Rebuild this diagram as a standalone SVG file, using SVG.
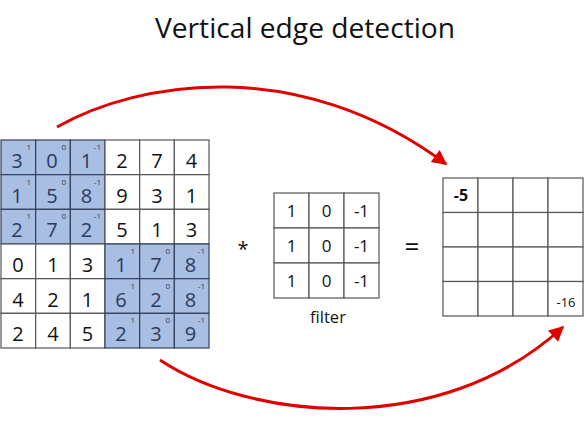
<svg xmlns="http://www.w3.org/2000/svg" width="586" height="431" viewBox="0 0 586 431">
<defs>
<style>
text{font-family:"Open Sans","Noto Sans","Liberation Sans",sans-serif;fill:#111;}
.c{fill:#fff;stroke:#555;stroke-width:1.2;}
.b{fill:#a9bee3;stroke:#33415e;stroke-width:1.2;}
.d{font-size:20px;text-anchor:middle;}
.db{font-size:20px;text-anchor:middle;fill:#2a3b5e;}
.s{font-size:8px;text-anchor:end;fill:#2a3b5e;}
.f{font-size:17px;text-anchor:middle;}
.arr{fill:none;stroke:#e00000;stroke-width:3;}
</style>
<marker id="ah" viewBox="0 0 10 10" refX="9" refY="5" markerWidth="6" markerHeight="5" markerUnits="strokeWidth" orient="auto">
<path d="M0,0 L10,5 L0,10 z" fill="#e00000"/>
</marker>
</defs>
<rect width="586" height="431" fill="#fff"/>
<g id="title"><text x="305" y="38" style="font-size:28px;text-anchor:middle" textLength="300" lengthAdjust="spacingAndGlyphs">Vertical edge detection</text></g>
<g id="input">
<rect class="b" x="1" y="140" width="34.67" height="34.67"/><rect class="b" x="35.67" y="140" width="34.67" height="34.67"/><rect class="b" x="70.33" y="140" width="34.67" height="34.67"/>
<rect class="c" x="105" y="140" width="34.67" height="34.67"/><rect class="c" x="139.67" y="140" width="34.67" height="34.67"/><rect class="c" x="174.33" y="140" width="34.67" height="34.67"/>
<rect class="b" x="1" y="174.67" width="34.67" height="34.67"/><rect class="b" x="35.67" y="174.67" width="34.67" height="34.67"/><rect class="b" x="70.33" y="174.67" width="34.67" height="34.67"/>
<rect class="c" x="105" y="174.67" width="34.67" height="34.67"/><rect class="c" x="139.67" y="174.67" width="34.67" height="34.67"/><rect class="c" x="174.33" y="174.67" width="34.67" height="34.67"/>
<rect class="b" x="1" y="209.33" width="34.67" height="34.67"/><rect class="b" x="35.67" y="209.33" width="34.67" height="34.67"/><rect class="b" x="70.33" y="209.33" width="34.67" height="34.67"/>
<rect class="c" x="105" y="209.33" width="34.67" height="34.67"/><rect class="c" x="139.67" y="209.33" width="34.67" height="34.67"/><rect class="c" x="174.33" y="209.33" width="34.67" height="34.67"/>
<rect class="c" x="1" y="244" width="34.67" height="34.67"/><rect class="c" x="35.67" y="244" width="34.67" height="34.67"/><rect class="c" x="70.33" y="244" width="34.67" height="34.67"/>
<rect class="c" x="1" y="278.67" width="34.67" height="34.67"/><rect class="c" x="35.67" y="278.67" width="34.67" height="34.67"/><rect class="c" x="70.33" y="278.67" width="34.67" height="34.67"/>
<rect class="c" x="1" y="313.33" width="34.67" height="34.67"/><rect class="c" x="35.67" y="313.33" width="34.67" height="34.67"/><rect class="c" x="70.33" y="313.33" width="34.67" height="34.67"/>
<rect class="b" x="105" y="244" width="34.67" height="34.67"/><rect class="b" x="139.67" y="244" width="34.67" height="34.67"/><rect class="b" x="174.33" y="244" width="34.67" height="34.67"/>
<rect class="b" x="105" y="278.67" width="34.67" height="34.67"/><rect class="b" x="139.67" y="278.67" width="34.67" height="34.67"/><rect class="b" x="174.33" y="278.67" width="34.67" height="34.67"/>
<rect class="b" x="105" y="313.33" width="34.67" height="34.67"/><rect class="b" x="139.67" y="313.33" width="34.67" height="34.67"/><rect class="b" x="174.33" y="313.33" width="34.67" height="34.67"/>
<text class="db" x="17" y="168">3</text><text class="db" x="52" y="168">0</text><text class="db" x="86.5" y="168">1</text><text class="d" x="122" y="168">2</text><text class="d" x="157" y="168">7</text><text class="d" x="191.5" y="168">4</text>
<text class="db" x="17" y="202.7">1</text><text class="db" x="52" y="202.7">5</text><text class="db" x="86.5" y="202.7">8</text><text class="d" x="122" y="202.7">9</text><text class="d" x="157" y="202.7">3</text><text class="d" x="191.5" y="202.7">1</text>
<text class="db" x="17" y="237.3">2</text><text class="db" x="52" y="237.3">7</text><text class="db" x="86.5" y="237.3">2</text><text class="d" x="122" y="237.3">5</text><text class="d" x="157" y="237.3">1</text><text class="d" x="191.5" y="237.3">3</text>
<text class="d" x="18" y="272">0</text><text class="d" x="53" y="272">1</text><text class="d" x="87.5" y="272">3</text><text class="db" x="121" y="272">1</text><text class="db" x="156" y="272">7</text><text class="db" x="190.5" y="272">8</text>
<text class="d" x="18" y="306.7">4</text><text class="d" x="53" y="306.7">2</text><text class="d" x="87.5" y="306.7">1</text><text class="db" x="121" y="306.7">6</text><text class="db" x="156" y="306.7">2</text><text class="db" x="190.5" y="306.7">8</text>
<text class="d" x="18" y="341.3">2</text><text class="d" x="53" y="341.3">4</text><text class="d" x="87.5" y="341.3">5</text><text class="db" x="121" y="341.3">2</text><text class="db" x="156" y="341.3">3</text><text class="db" x="190.5" y="341.3">9</text>
<text class="s" x="31" y="150">1</text><text class="s" x="66" y="150">0</text><text class="s" x="101" y="150">-1</text>
<text class="s" x="31" y="184.7">1</text><text class="s" x="66" y="184.7">0</text><text class="s" x="101" y="184.7">-1</text>
<text class="s" x="31" y="219.3">1</text><text class="s" x="66" y="219.3">0</text><text class="s" x="101" y="219.3">-1</text>
<text class="s" x="135" y="254">1</text><text class="s" x="170" y="254">0</text><text class="s" x="205" y="254">-1</text>
<text class="s" x="135" y="288.7">1</text><text class="s" x="170" y="288.7">0</text><text class="s" x="205" y="288.7">-1</text>
<text class="s" x="135" y="323.3">1</text><text class="s" x="170" y="323.3">0</text><text class="s" x="205" y="323.3">-1</text>
</g>
<g id="op-conv"><text x="243" y="256" style="font-size:20px;text-anchor:middle">*</text></g>
<g id="filter">
<rect class="c" x="274" y="193" width="35" height="35"/><rect class="c" x="309" y="193" width="35" height="35"/><rect class="c" x="344" y="193" width="35" height="35"/>
<rect class="c" x="274" y="228" width="35" height="35"/><rect class="c" x="309" y="228" width="35" height="35"/><rect class="c" x="344" y="228" width="35" height="35"/>
<rect class="c" x="274" y="263" width="35" height="35"/><rect class="c" x="309" y="263" width="35" height="35"/><rect class="c" x="344" y="263" width="35" height="35"/>
<text class="f" x="291.5" y="217">1</text><text class="f" x="326.5" y="217">0</text><text class="f" x="361.5" y="217">-1</text>
<text class="f" x="291.5" y="252">1</text><text class="f" x="326.5" y="252">0</text><text class="f" x="361.5" y="252">-1</text>
<text class="f" x="291.5" y="287">1</text><text class="f" x="326.5" y="287">0</text><text class="f" x="361.5" y="287">-1</text>
<text x="328" y="323" style="font-size:16.5px;text-anchor:middle">filter</text>
</g>
<g id="op-eq"><text x="412" y="256" style="font-size:26px;text-anchor:middle">=</text></g>
<g id="output">
<rect class="c" x="443" y="178" width="35" height="34.5"/><rect class="c" x="478" y="178" width="35" height="34.5"/><rect class="c" x="513" y="178" width="35" height="34.5"/><rect class="c" x="548" y="178" width="35" height="34.5"/>
<rect class="c" x="443" y="212.5" width="35" height="34.5"/><rect class="c" x="478" y="212.5" width="35" height="34.5"/><rect class="c" x="513" y="212.5" width="35" height="34.5"/><rect class="c" x="548" y="212.5" width="35" height="34.5"/>
<rect class="c" x="443" y="247" width="35" height="34.5"/><rect class="c" x="478" y="247" width="35" height="34.5"/><rect class="c" x="513" y="247" width="35" height="34.5"/><rect class="c" x="548" y="247" width="35" height="34.5"/>
<rect class="c" x="443" y="281.5" width="35" height="34.5"/><rect class="c" x="478" y="281.5" width="35" height="34.5"/><rect class="c" x="513" y="281.5" width="35" height="34.5"/><rect class="c" x="548" y="281.5" width="35" height="34.5"/>
<text x="461" y="201" style="font-size:16px;font-weight:bold;text-anchor:middle">-5</text>
<text x="566" y="307" style="font-size:13px;text-anchor:middle">-16</text>
</g>
<g id="connectors">
<path class="arr" d="M57,127 C140,80 300,55 446,164" marker-end="url(#ah)"/>
<path class="arr" d="M160,360 C250,420 440,440 563,327" marker-end="url(#ah)"/>
</g>
</svg>
